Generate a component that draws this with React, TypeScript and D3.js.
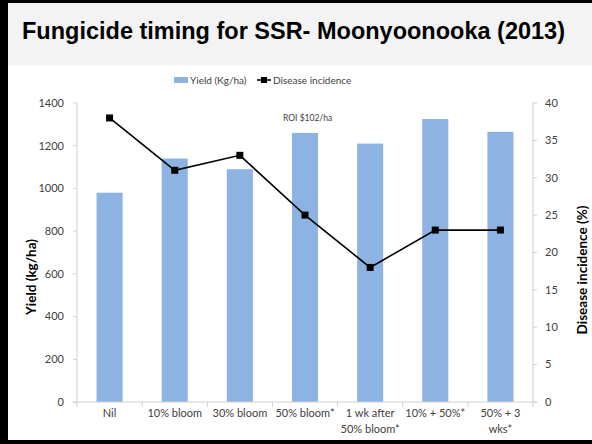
import React, { useEffect, useRef } from 'react';
import * as d3 from 'd3';

const categories = [
  ['Nil'],
  ['10% bloom'],
  ['30% bloom'],
  ['50% bloom*'],
  ['1 wk after', '50% bloom*'],
  ['10% + 50%*'],
  ['50% + 3', 'wks*'],
];
const yieldValues = [980, 1140, 1090, 1260, 1210, 1325, 1265];
const diseaseValues = [38, 31, 33, 25, 18, 23, 23];
const yieldTicks = [0, 200, 400, 600, 800, 1000, 1200, 1400];
const diseaseTicks = [0, 5, 10, 15, 20, 25, 30, 35, 40];

const W = 592;
const H = 444;
const font = 'Lato, "Open Sans", sans-serif';

function Chart() {
  const svgRef = useRef(null);

  useEffect(() => {
    document.body.style.margin = '0';
    document.body.style.overflow = 'hidden';

    const svg = d3.select(svgRef.current);
    svg.selectAll('*').remove();

    // frame + title band
    svg.append('rect').attr('x', 0).attr('y', 0).attr('width', W).attr('height', H).attr('fill', '#000');
    svg.append('rect').attr('x', 8).attr('y', 3).attr('width', W - 8).attr('height', 437).attr('fill', '#fff');
    svg.append('rect').attr('x', 8).attr('y', 3).attr('width', W - 8).attr('height', 62).attr('fill', '#f3f3f3');

    svg
      .append('text')
      .attr('x', 22)
      .attr('y', 39)
      .attr('font-family', 'Arial, "Liberation Sans", sans-serif')
      .attr('font-weight', 'bold')
      .attr('font-size', 24)
      .attr('textLength', 543)
      .attr('lengthAdjust', 'spacingAndGlyphs')
      .attr('fill', '#000')
      .text('Fungicide timing for SSR- Moonyoonooka (2013)');

    const left = 77;
    const right = 533;
    const top = 103;
    const bottom = 402;

    const x = d3
      .scaleBand()
      .domain(categories.map((d, i) => String(i)))
      .range([left, right])
      .paddingInner(0.6)
      .paddingOuter(0.3);
    const xOuter = d3.scaleBand().domain(categories.map((d, i) => String(i))).range([left, right]);
    const yL = d3.scaleLinear().domain([0, 1400]).range([bottom, top]);
    const yR = d3.scaleLinear().domain([0, 40]).range([bottom, top]);

    const axisColor = '#d0d0d0';
    const labelColor = '#404040';

    // bars
    svg
      .selectAll('rect.bar')
      .data(yieldValues)
      .enter()
      .append('rect')
      .attr('class', 'bar')
      .attr('x', (d, i) => x(String(i)))
      .attr('width', x.bandwidth())
      .attr('y', (d) => yL(d))
      .attr('height', (d) => yL(0) - yL(d))
      .attr('fill', '#8db3e2');

    // axes lines
    svg.append('line').attr('x1', left).attr('x2', left).attr('y1', top).attr('y2', bottom).attr('stroke', axisColor);
    svg.append('line').attr('x1', right).attr('x2', right).attr('y1', top).attr('y2', bottom).attr('stroke', axisColor);
    svg.append('line').attr('x1', left - 4).attr('x2', right + 4).attr('y1', bottom).attr('y2', bottom).attr('stroke', axisColor);

    // left ticks
    yieldTicks.forEach((t) => {
      svg.append('line').attr('x1', left - 4).attr('x2', left).attr('y1', yL(t)).attr('y2', yL(t)).attr('stroke', axisColor);
      svg
        .append('text')
        .attr('x', 64)
        .attr('y', yL(t))
        .attr('dy', '0.35em')
        .attr('text-anchor', 'end')
        .attr('font-family', font)
        .attr('font-size', 11)
        .attr('fill', labelColor)
        .text(t);
    });

    // right ticks
    diseaseTicks.forEach((t) => {
      svg.append('line').attr('x1', right).attr('x2', right + 4).attr('y1', yR(t)).attr('y2', yR(t)).attr('stroke', axisColor);
      svg
        .append('text')
        .attr('x', 545)
        .attr('y', yR(t))
        .attr('dy', '0.35em')
        .attr('text-anchor', 'start')
        .attr('font-family', font)
        .attr('font-size', 11)
        .attr('fill', labelColor)
        .text(t);
    });

    // x ticks + labels
    categories.forEach((c, i) => {
      const x0 = xOuter(String(i));
      svg.append('line').attr('x1', x0).attr('x2', x0).attr('y1', bottom).attr('y2', bottom + 5).attr('stroke', axisColor);
      c.forEach((line, j) => {
        svg
          .append('text')
          .attr('x', x0 + xOuter.bandwidth() / 2)
          .attr('y', 417 + j * 15.5)
          .attr('text-anchor', 'middle')
          .attr('font-family', font)
          .attr('font-size', 11)
          .attr('fill', labelColor)
          .text(line);
      });
    });
    svg.append('line').attr('x1', right).attr('x2', right).attr('y1', bottom).attr('y2', bottom + 5).attr('stroke', axisColor);

    // disease line
    const cx = (i) => xOuter(String(i)) + xOuter.bandwidth() / 2;
    const line = d3
      .line()
      .x((d, i) => cx(i))
      .y((d) => yR(d));
    svg.append('path').attr('d', line(diseaseValues)).attr('fill', 'none').attr('stroke', '#000').attr('stroke-width', 1.6);
    svg
      .selectAll('rect.pt')
      .data(diseaseValues)
      .enter()
      .append('rect')
      .attr('class', 'pt')
      .attr('x', (d, i) => cx(i) - 3.5)
      .attr('y', (d) => yR(d) - 3.5)
      .attr('width', 7)
      .attr('height', 7)
      .attr('fill', '#000');

    // ROI annotation
    svg
      .append('text')
      .attr('x', 283)
      .attr('y', 121)
      .attr('font-family', font)
      .attr('font-size', 8.5)
      .attr('fill', labelColor)
      .text('ROI $102/ha');

    // axis titles
    svg
      .append('text')
      .attr('transform', 'translate(36,277) rotate(-90)')
      .attr('text-anchor', 'middle')
      .attr('font-family', font)
      .attr('font-weight', 'bold')
      .attr('font-size', 13.5)
      .attr('fill', '#000')
      .text('Yield (kg/ha)');
    svg
      .append('text')
      .attr('transform', 'translate(587,270) rotate(-90)')
      .attr('text-anchor', 'middle')
      .attr('font-family', font)
      .attr('font-weight', 'bold')
      .attr('font-size', 13.5)
      .attr('fill', '#000')
      .text('Disease incidence (%)');

    // legend
    svg.append('rect').attr('x', 174).attr('y', 77).attr('width', 14).attr('height', 6).attr('fill', '#8db3e2');
    svg
      .append('text')
      .attr('x', 190)
      .attr('y', 80)
      .attr('dy', '0.35em')
      .attr('font-family', font)
      .attr('font-size', 10)
      .attr('fill', labelColor)
      .text('Yield (Kg/ha)');
    svg.append('line').attr('x1', 257).attr('x2', 271).attr('y1', 80).attr('y2', 80).attr('stroke', '#000').attr('stroke-width', 1.6);
    svg.append('rect').attr('x', 261).attr('y', 77).attr('width', 6).attr('height', 6).attr('fill', '#000');
    svg
      .append('text')
      .attr('x', 273)
      .attr('y', 80)
      .attr('dy', '0.35em')
      .attr('font-family', font)
      .attr('font-size', 10)
      .attr('fill', labelColor)
      .text('Disease incidence');
  }, []);

  return <svg ref={svgRef} width={W} height={H} style={{ display: 'block', position: 'fixed', left: 0, top: 0 }} xmlns="http://www.w3.org/2000/svg" />;
}

export default function App() {
  return (
    <div>
      <Chart />
    </div>
  );
}
